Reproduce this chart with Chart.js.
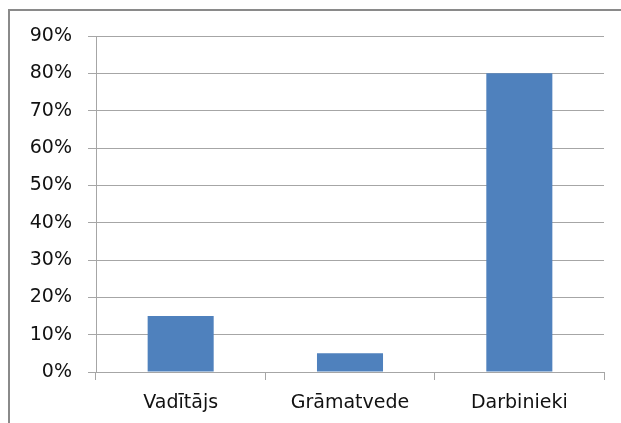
<!DOCTYPE html>
<html>
<head>
<meta charset="utf-8">
<script src="https://cdn.jsdelivr.net/npm/chart.js@4"></script>
<style>
    body { margin: 0; background: #fff; }
    #wrap { position: relative; width: 621px; height: 423px; overflow: hidden; }
    #frame { position: absolute; left: 8px; top: 9px; width: 700px; height: 500px; border: 2px solid #8a8a8a; box-sizing: border-box; }
    #myChart { position: absolute; left: 0; top: 0; }
</style>
</head>
<body>
<div id="wrap">
    <div id="frame"></div>
    <canvas id="myChart" width="621" height="423"></canvas>
</div>
<script>
const categories = ['Vadītājs', 'Grāmatvede', 'Darbinieki'];
const shares = [15, 5, 80];
const yTicks = [0, 10, 20, 30, 40, 50, 60, 70, 80, 90];

const ctx = document.getElementById('myChart');
const gridColor = '#a6a6a6';
const textColor = '#111';
const font = { family: '"DejaVu Sans", sans-serif', size: 19 };

const data = {
    labels: categories,
    datasets: [{
        data: shares,
        backgroundColor: '#4f81bd',
        barPercentage: 0.39,
        categoryPercentage: 1
    }]
};

const options = {
    responsive: false,
    animation: false,
    layout: { padding: { top: 36, right: 17, left: 0, bottom: 0 } },
    plugins: { legend: { display: false }, tooltip: { enabled: false } },
    scales: {
        x: {
            offset: true,
            grid: {
                offset: true,
                drawOnChartArea: false,
                color: gridColor,
                tickLength: 8
            },
            border: { color: gridColor, width: 1 },
            ticks: { color: textColor, font: font, padding: 12 },
            afterFit: function (scale) { scale.height = 51; }
        },
        y: {
            min: 0,
            max: 90,
            afterBuildTicks: function (scale) {
                scale.ticks = yTicks.map(v => ({ value: v }));
            },
            grid: { color: gridColor, tickLength: 8 },
            border: { color: gridColor, width: 1 },
            ticks: {
                color: textColor,
                font: font,
                padding: 16,
                callback: v => v + '%'
            },
            afterFit: function (scale) { scale.width = 96; }
        }
    }
};

new Chart(ctx, { type: 'bar', data: data, options: options });
</script>
</body>
</html>
